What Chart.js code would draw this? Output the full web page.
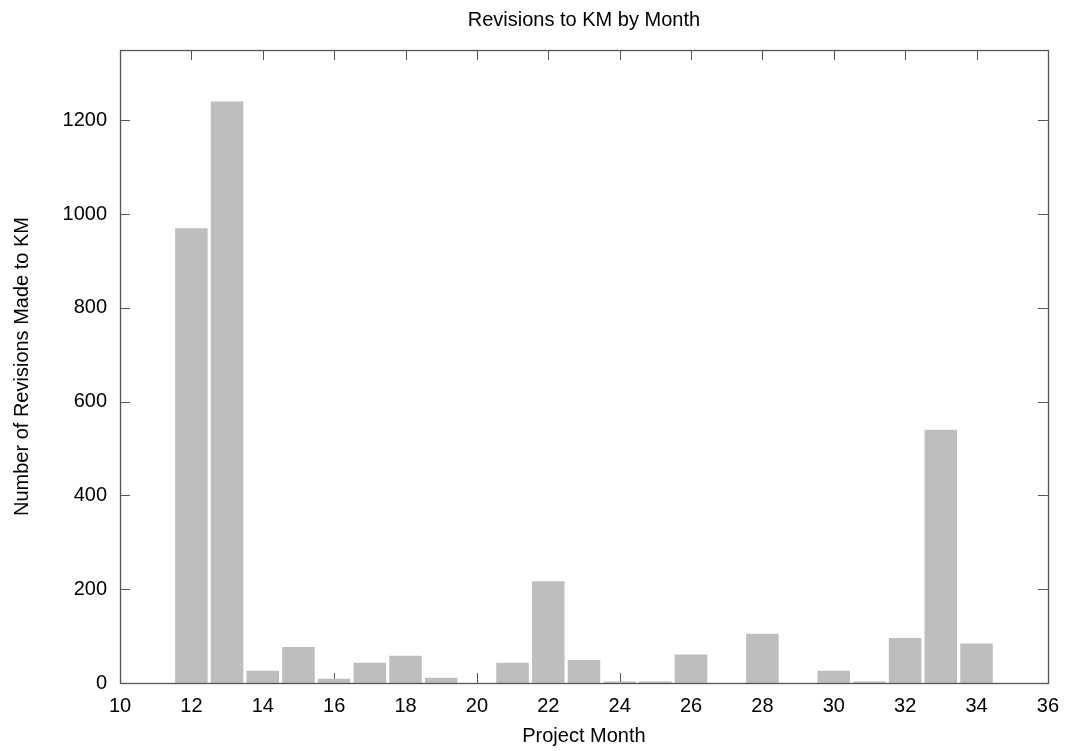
<!DOCTYPE html>
<html>
<head>
<meta charset="utf-8">
<title>Revisions to KM by Month</title>
<script src="https://cdn.jsdelivr.net/npm/chart.js@4/dist/chart.umd.min.js"></script>
<style>
  body { margin: 0; background: #fff; }
  canvas { display: block; }
</style>
</head>
<body>
<canvas id="revisionsChart" width="1070" height="751"></canvas>
<script>
// Project month of each bar and number of revisions in that month
const months = [12, 13, 14, 15, 16, 17, 18, 19, 21, 22, 23, 24, 25, 26, 28, 30, 31, 32, 33, 34];
const revisions = [970, 1240, 26, 77, 9, 43, 58, 11, 43, 217, 49, 3, 3, 61, 105, 26, 3, 96, 540, 84];

const xRange = [10, 36];
const yRange = [0, 1350];

const FONT = { family: "'Liberation Sans', Arial, sans-serif", size: 20 };
const FRAME_COLOR = "#555";
const TICK_LEN = 10;

// gnuplot style: closed border with inward ticks mirrored on all sides
const framePlugin = {
  id: "frame",
  beforeDatasetsDraw(chart) {
    const { ctx, chartArea: a, scales } = chart;
    ctx.save();
    ctx.strokeStyle = FRAME_COLOR;
    ctx.lineWidth = 1;
    ctx.beginPath();
    scales.x.ticks.forEach((t) => {
      const px = Math.round(scales.x.getPixelForValue(t.value)) + 0.5;
      ctx.moveTo(px, a.bottom);
      ctx.lineTo(px, a.bottom - TICK_LEN);
      ctx.moveTo(px, a.top);
      ctx.lineTo(px, a.top + TICK_LEN);
    });
    scales.y.ticks.forEach((t) => {
      const py = Math.round(scales.y.getPixelForValue(t.value)) + 0.5;
      ctx.moveTo(a.left, py);
      ctx.lineTo(a.left + TICK_LEN, py);
      ctx.moveTo(a.right, py);
      ctx.lineTo(a.right - TICK_LEN, py);
    });
    ctx.stroke();
    ctx.restore();
  },
  afterDatasetsDraw(chart) {
    const { ctx, chartArea: a } = chart;
    ctx.save();
    ctx.strokeStyle = FRAME_COLOR;
    ctx.lineWidth = 1.3;
    ctx.strokeRect(Math.round(a.left) + 0.5, Math.round(a.top) + 0.5,
      Math.round(a.right - a.left), Math.round(a.bottom - a.top));
    ctx.restore();
  },
};

Chart.defaults.color = "#000";
Chart.defaults.font.family = FONT.family;

new Chart(document.getElementById("revisionsChart"), {
  type: "bar",
  data: {
    datasets: [
      {
        label: "Revisions",
        data: months.map((m, i) => ({ x: m, y: revisions[i] })),
        backgroundColor: "#bebebe",
        borderWidth: 0,
        barPercentage: 0.912,
        categoryPercentage: 1,
      },
    ],
  },
  options: {
    responsive: false,
    animation: false,
    layout: { padding: { left: 0, right: 21, top: 0, bottom: 0 } },
    plugins: {
      legend: { display: false },
      tooltip: { enabled: false },
      title: {
        display: true,
        text: "Revisions to KM by Month",
        fullSize: false,
        font: { ...FONT, weight: "normal" },
        padding: { top: 8.5, bottom: 17.5 },
      },
    },
    scales: {
      x: {
        type: "linear",
        min: xRange[0],
        max: xRange[1],
        offset: false,
        grid: { display: false, drawTicks: false, offset: false },
        border: { display: false },
        ticks: {
          stepSize: 2,
          padding: 11,
          font: FONT,
          maxRotation: 0,
          callback: (v) => String(v),
        },
        title: {
          display: true,
          text: "Project Month",
          font: FONT,
          padding: { top: 0, bottom: 3 },
        },
        afterFit(scale) {
          scale.height = 68;
        },
      },
      y: {
        min: yRange[0],
        max: yRange[1],
        grid: { display: false, drawTicks: false },
        border: { display: false },
        ticks: {
          stepSize: 200,
          includeBounds: false,
          padding: 13,
          font: FONT,
          callback: (v) => String(v),
        },
        title: {
          display: true,
          text: "Number of Revisions Made to KM",
          font: FONT,
          padding: { top: 10, bottom: 0 },
        },
        afterFit(scale) {
          scale.width = 120;
        },
      },
    },
  },
  plugins: [framePlugin],
});
</script>
</body>
</html>
